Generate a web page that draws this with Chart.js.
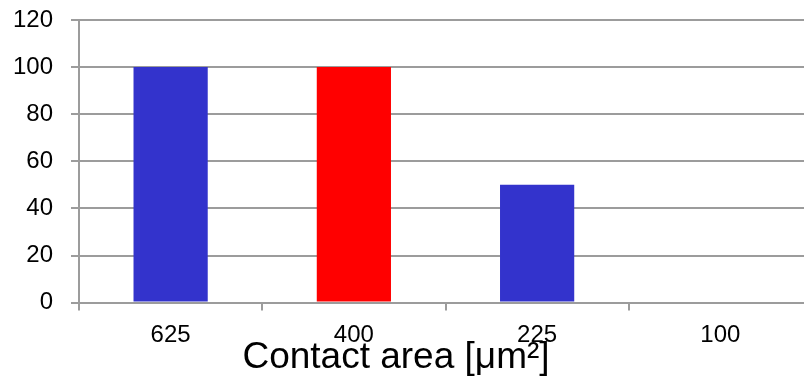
<!DOCTYPE html>
<html>
<head>
<meta charset="utf-8">
<script src="https://cdn.jsdelivr.net/npm/chart.js@4/dist/chart.umd.min.js"></script>
<style>
  html, body { margin: 0; padding: 0; background: #fff; overflow: hidden; }
  #wrap { width: 812px; height: 381px; }
</style>
</head>
<body>
<div id="wrap"><canvas id="chart"></canvas></div>
<script>
const categories = ["625", "400", "225", "100"];
const values = [100, 100, 50, 0];
const barColors = ["#3333cc", "#ff0000", "#3333cc", "#3333cc"];
const yTicks = [0, 20, 40, 60, 80, 100, 120];
const xTitle = "Contact area [μm²]";

const gridColor = "#9c9c9c";
const font = "Arial, 'Liberation Sans', sans-serif";

const ctx = document.getElementById("chart");

// the axis title in the original sits a bit left of the plot centre
const nudgeTitle = {
  id: "nudgeTitle",
  afterLayout: (chart) => {
    if (chart.titleBlock) {
      chart.titleBlock.left -= 10;
      chart.titleBlock.right -= 10;
    }
  },
};

new Chart(ctx, {
  type: "bar",
  data: {
    labels: categories,
    datasets: [
      {
        data: values,
        backgroundColor: barColors,
        borderWidth: 0,
        barPercentage: 0.405,
        categoryPercentage: 1,
      },
    ],
  },
  options: {
    responsive: true,
    maintainAspectRatio: false,
    animation: false,
    layout: {
      padding: { top: 20, left: 0, right: 0, bottom: 1 },
    },
    scales: {
      x: {
        offset: true,
        border: { display: true, color: gridColor, width: 2 },
        grid: {
          offset: true,
          drawOnChartArea: false,
          drawTicks: true,
          tickLength: 8,
          color: gridColor,
          lineWidth: 2,
        },
        ticks: {
          color: "#000",
          padding: 13,
          font: { family: font, size: 24, lineHeight: 1 },
          maxRotation: 0,
        },
      },
      y: {
        min: 0,
        max: 120,
        afterFit: (scale) => {
          scale.width = 79;
          scale.paddingTop = 0;
          scale.paddingBottom = 0;
        },
        afterBuildTicks: (scale) => {
          scale.ticks = yTicks.map((v) => ({ value: v }));
        },
        border: { display: true, color: gridColor, width: 2 },
        grid: {
          color: gridColor,
          lineWidth: 2,
          tickLength: 8,
        },
        ticks: {
          color: "#000",
          padding: 18,
          font: { family: font, size: 24 },
        },
      },
    },
    plugins: {
      legend: { display: false },
      tooltip: { enabled: false },
      title: {
        display: true,
        position: "bottom",
        text: xTitle,
        color: "#000",
        font: { family: font, size: 37, weight: "normal", lineHeight: 1.2 },
        padding: { top: -25, bottom: 0 },
      },
    },
  },
  plugins: [nudgeTitle],
});
</script>
</body>
</html>
